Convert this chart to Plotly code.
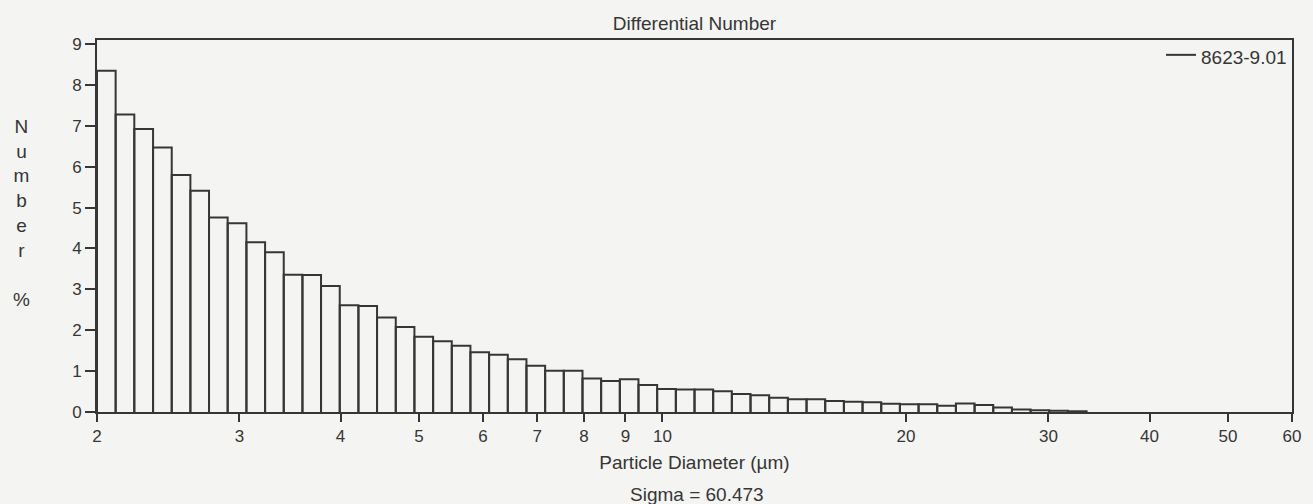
import plotly.graph_objects as go
import math

# Bin edges (particle diameter, µm) - log-spaced analyser channels
bin_edges = [2.000, 2.109, 2.224, 2.346, 2.474, 2.609, 2.751, 2.901, 3.060, 3.227,
             3.403, 3.589, 3.784, 3.991, 4.209, 4.438, 4.681, 4.936, 5.206, 5.490,
             5.789, 6.105, 6.439, 6.790, 7.161, 7.551, 7.964, 8.398, 8.857, 9.340,
             9.850, 10.388, 10.955, 11.552, 12.183, 12.848, 13.549, 14.289, 15.069, 15.891,
             16.759, 17.673, 18.638, 19.655, 20.728, 21.859, 23.052, 24.311, 25.638, 27.037,
             28.512, 30.068, 31.710, 33.440]

# Differential number %
number_pct = [8.35, 7.28, 6.92, 6.47, 5.80, 5.41, 4.76, 4.62, 4.15, 3.91,
              3.36, 3.35, 3.08, 2.61, 2.59, 2.31, 2.08, 1.84, 1.73, 1.62,
              1.46, 1.40, 1.29, 1.13, 1.01, 1.01, 0.82, 0.76, 0.80, 0.66,
              0.56, 0.55, 0.55, 0.51, 0.44, 0.41, 0.35, 0.31, 0.31, 0.27,
              0.25, 0.24, 0.20, 0.19, 0.19, 0.15, 0.21, 0.17, 0.11, 0.06,
              0.04, 0.03, 0.02]

x_ticks = [2, 3, 4, 5, 6, 7, 8, 9, 10, 20, 30, 40, 50, 60]
x_tick_text = ["2", "3", "4", "5", "6", "7", "8", "9", "10", "20", "30", "40", "50", "60"]
y_ticks = [0, 1, 2, 3, 4, 5, 6, 7, 8, 9]

series_name = "8623-9.01"
title_text = "Differential Number"
x_title = "Particle Diameter (\u00b5m)"
sigma_text = "Sigma = 60.473"

INK = "#363636"
BG = "#f4f4f2"
FONT = "Liberation Sans, Arial, sans-serif"

# Build histogram rectangles as a single outline trace
xs, ys = [], []
for i, h in enumerate(number_pct):
    x0, x1 = bin_edges[i], bin_edges[i + 1]
    xs += [x0, x0, x1, x1, None]
    ys += [0, h, h, 0, None]

fig = go.Figure()
fig.add_trace(go.Scatter(
    x=xs, y=ys, mode="lines", name=series_name,
    line=dict(color=INK, width=2),
    fill="toself", fillcolor=BG,
    showlegend=True,
))

fig.update_layout(
    width=1313, height=504,
    margin=dict(l=97, r=14, t=40, b=92),
    paper_bgcolor=BG, plot_bgcolor=BG,
    font=dict(family=FONT, size=18, color=INK),
    showlegend=True,
    legend=dict(x=1.0, y=(412 - 57) / 372, xanchor="right", yanchor="middle",
                bgcolor="rgba(0,0,0,0)", borderwidth=0,
                font=dict(size=19, color=INK)),
    title=dict(text=title_text, x=0.5, xref="paper", y=1 - 23 / 504,
               yref="container", yanchor="middle",
               font=dict(size=19, color=INK)),
)

fig.update_xaxes(
    type="log", range=[math.log10(2), math.log10(60)],
    tickvals=x_ticks, ticktext=x_tick_text,
    ticks="outside", ticklen=8, tickwidth=2, tickcolor=INK,
    showline=True, linecolor=INK, linewidth=2, mirror=True,
    showgrid=False, zeroline=False,
    tickfont=dict(size=17, color=INK),
    title=dict(text=x_title, font=dict(size=19, color=INK), standoff=10),
)
fig.update_yaxes(
    range=[0, 9.1], tickvals=y_ticks,
    ticks="outside", ticklen=10, tickwidth=2, tickcolor=INK,
    showline=True, linecolor=INK, linewidth=2, mirror=True,
    showgrid=False, zeroline=False,
    tickfont=dict(size=17, color=INK),
)

fig.add_annotation(
    text="N<br>u<br>m<br>b<br>e<br>r<br><br>%",
    xref="paper", yref="paper", x=-(97 - 21) / 1202, y=(412 - 114) / 372,
    xanchor="center", yanchor="top", showarrow=False,
    font=dict(size=19, color=INK), align="center",
)
fig.add_annotation(
    text=sigma_text, xref="paper", yref="paper",
    x=(701 - 97) / 1202, y=-(494 - 412) / 372, xanchor="center", yanchor="middle",
    showarrow=False, font=dict(size=19, color=INK),
)

fig.write_html(
    "out.html",
    config={"displayModeBar": False},
    post_script="document.body.style.margin='0';document.body.style.background='%s';" % BG,
)
